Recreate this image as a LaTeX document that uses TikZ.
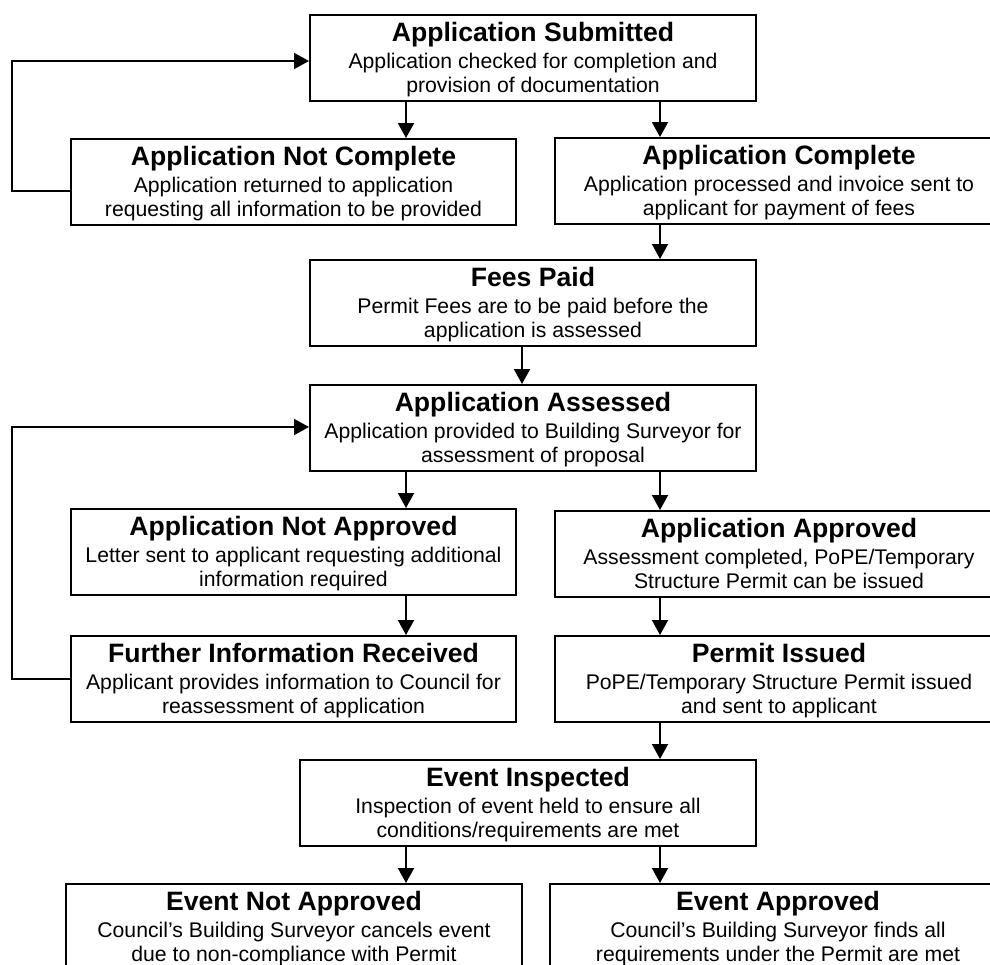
\documentclass[tikz,border=0pt]{standalone}
\usepackage{fontspec}
\setmainfont{Liberation Sans}
\usetikzlibrary{arrows.meta}
\tikzset{
  box/.style={draw, line width=2pt, rectangle, inner sep=0pt, fill=white, minimum height=86pt},
  ttl/.style={font=\bfseries\fontsize{26.6}{30}\selectfont, inner sep=0pt, anchor=base},
  bdy/.style={font=\fontsize{21.2}{24}\selectfont, inner sep=0pt, anchor=base},
  arr/.style={line width=2pt, -{Triangle[width=16pt,length=15pt]}},
}
\newcommand\flowbox[7]{%
  \node[box, minimum width=#4pt, anchor=north] (#1) at (#2,#3) {};
  \node[ttl] (#1-t) at ([yshift=-27pt]#1.north) {#5};
  \node[bdy] (#1-a) at ([yshift=-54pt]#1.north) {#6};
  \node[bdy] (#1-b) at ([yshift=-78pt]#1.north) {#7};
}
\begin{document}
\begin{tikzpicture}[x=1pt,y=-1pt]
\useasboundingbox (0,0) rectangle (990,964);
\clip (0,0) rectangle (990,964);

\flowbox{sub}{533}{14}{446}{Application Submitted}{Application checked for completion and}{provision of documentation}
\flowbox{nc}{293.5}{138}{445}{Application Not Complete}{Application returned to application}{requesting all information to be provided}
\flowbox{ac}{779}{137}{448}{Application Complete}{Application processed and invoice sent to}{applicant for payment of fees}
\flowbox{fp}{533}{259}{446}{Fees Paid}{Permit Fees are to be paid before the}{application is assessed}
\flowbox{as}{533}{384}{446}{Application Assessed}{Application provided to Building Surveyor for}{assessment of proposal}
\flowbox{na}{293.5}{508}{445}{Application Not Approved}{Letter sent to applicant requesting additional}{information required}
\flowbox{ap}{779}{510}{448}{Application Approved}{Assessment completed, PoPE/Temporary}{Structure Permit can be issued}
\flowbox{fi}{293.5}{635}{445}{Further Information Received}{Applicant provides information to Council for}{reassessment of application}
\flowbox{pi}{779}{635}{448}{Permit Issued}{PoPE/Temporary Structure Permit issued}{and sent to applicant}
\flowbox{ei}{528}{759}{456}{Event Inspected}{Inspection of event held to ensure all}{conditions/requirements are met}
\flowbox{en}{294}{883}{456}{Event Not Approved}{Council’s Building Surveyor cancels event}{due to non-compliance with Permit}
\flowbox{ea}{778}{883}{456}{Event Approved}{Council’s Building Surveyor finds all}{requirements under the Permit are met}

\coordinate (cL) at (406,0);
\coordinate (cR) at (660,0);
\coordinate (cM) at (522,0);
\coordinate (lp) at (12,0);
\coordinate (y1) at (0,191);
\coordinate (y2) at (0,61);
\coordinate (y3) at (0,679);
\coordinate (y4) at (0,427);

\draw[arr] (sub.south -| cL) -- (nc.north -| cL);
\draw[arr] (sub.south -| cR) -- (ac.north -| cR);
\draw[arr] (ac.south -| cR) -- (fp.north -| cR);
\draw[arr] (fp.south -| cM) -- (as.north -| cM);
\draw[arr] (as.south -| cL) -- (na.north -| cL);
\draw[arr] (as.south -| cR) -- (ap.north -| cR);
\draw[arr] (na.south -| cL) -- (fi.north -| cL);
\draw[arr] (ap.south -| cR) -- (pi.north -| cR);
\draw[arr] (pi.south -| cR) -- (ei.north -| cR);
\draw[arr] (ei.south -| cL) -- (en.north -| cL);
\draw[arr] (ei.south -| cR) -- (ea.north -| cR);

\draw[arr] (nc.west |- y1) -- (lp |- y1) -- (lp |- y2) -- (sub.west |- y2);
\draw[arr] (fi.west |- y3) -- (lp |- y3) -- (lp |- y4) -- (as.west |- y4);
\end{tikzpicture}
\end{document}
